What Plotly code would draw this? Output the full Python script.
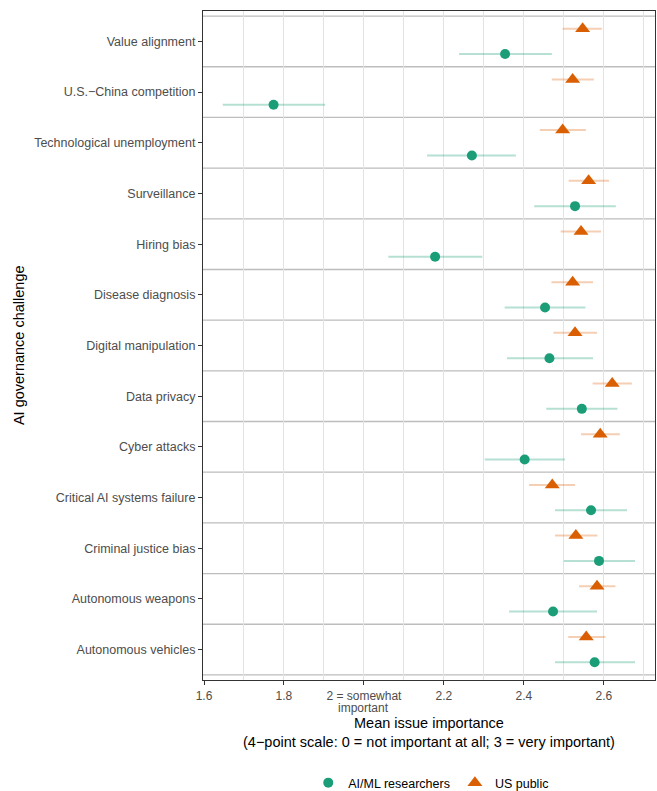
import plotly.graph_objects as go

# Categories, top to bottom
categories = [
    "Value alignment", "U.S.\u2212China competition", "Technological unemployment",
    "Surveillance", "Hiring bias", "Disease diagnosis", "Digital manipulation",
    "Data privacy", "Cyber attacks", "Critical AI systems failure",
    "Criminal justice bias", "Autonomous weapons", "Autonomous vehicles",
]

# AI/ML researchers: mean, lower, upper
res_mean = [2.353, 1.774, 2.270, 2.528, 2.178, 2.453, 2.464, 2.545, 2.402, 2.568, 2.588, 2.473, 2.577]
res_low  = [2.238, 1.647, 2.158, 2.426, 2.061, 2.352, 2.358, 2.456, 2.302, 2.478, 2.500, 2.363, 2.478]
res_high = [2.470, 1.903, 2.380, 2.630, 2.296, 2.554, 2.573, 2.634, 2.503, 2.658, 2.678, 2.583, 2.678]

# US public: mean, lower, upper
pub_mean = [2.547, 2.522, 2.497, 2.562, 2.543, 2.522, 2.528, 2.621, 2.591, 2.471, 2.530, 2.583, 2.556]
pub_low  = [2.497, 2.470, 2.440, 2.512, 2.492, 2.469, 2.474, 2.572, 2.543, 2.413, 2.478, 2.538, 2.511]
pub_high = [2.595, 2.575, 2.555, 2.613, 2.593, 2.573, 2.583, 2.670, 2.640, 2.528, 2.584, 2.629, 2.604]

x_tickvals = [1.6, 1.8, 2.0, 2.2, 2.4, 2.6]
x_ticktext = ["1.6", "1.8", "2 = somewhat", "2.2", "2.4", "2.6"]
x_tick_second_line = {2.0: "important"}

n = len(categories)
pos = [n - i for i in range(n)]
dodge = 0.25

green = "#1B9E77"
orange = "#D95F02"

fig = go.Figure()
fig.add_trace(go.Scatter(
    x=res_mean, y=[p - dodge for p in pos], mode="markers", name="AI/ML researchers",
    marker=dict(symbol="circle", size=10, color=green),
    error_x=dict(type="data", symmetric=False,
                 array=[h - m for h, m in zip(res_high, res_mean)],
                 arrayminus=[m - l for m, l in zip(res_mean, res_low)],
                 color="rgba(27,158,119,0.32)", thickness=2, width=0),
))
fig.add_trace(go.Scatter(
    x=pub_mean, y=[p + dodge for p in pos], mode="markers", name="US public",
    marker=dict(symbol="triangle-up", size=13, color=orange),
    error_x=dict(type="data", symmetric=False,
                 array=[h - m for h, m in zip(pub_high, pub_mean)],
                 arrayminus=[m - l for m, l in zip(pub_mean, pub_low)],
                 color="rgba(217,95,2,0.3)", thickness=2, width=0),
))

shapes = []
for k in range(n + 1):
    shapes.append(dict(type="line", xref="paper", x0=0, x1=1, yref="y",
                       y0=k + 0.5, y1=k + 0.5, line=dict(color="#bdbdbd", width=1.3),
                       layer="below"))

annotations = [
    dict(text="Mean issue importance<br>(4\u2212point scale: 0 = not important at all; 3 = very important)",
         xref="paper", yref="paper", x=0.5, y=-0.0515, xanchor="center", yanchor="top",
         showarrow=False, borderpad=0, font=dict(size=14.5, color="#000000")),
    dict(text="AI governance challenge", xref="paper", yref="paper",
         x=-0.408, y=0.5, xanchor="center", yanchor="middle", textangle=-90,
         showarrow=False, font=dict(size=14.5, color="#000000")),
]
for xv, txt in x_tick_second_line.items():
    annotations.append(dict(text=txt, xref="x", yref="paper", x=xv, y=-0.0415,
                            xanchor="center", yanchor="middle", showarrow=False,
                            borderpad=0, font=dict(size=12, color="#4D4D4D")))

fig.update_layout(
    width=657, height=791,
    margin=dict(l=203, r=2, t=11, b=111),
    plot_bgcolor="white", paper_bgcolor="white",
    font=dict(family="Liberation Sans, Arial, sans-serif", color="#000000"),
    shapes=shapes,
    annotations=annotations,
    showlegend=True,
    legend=dict(orientation="h", xref="paper", x=0.505, xanchor="center",
                yref="container", y=0.0101, yanchor="middle",
                font=dict(size=12.5, color="#000000"), itemwidth=30),
    xaxis=dict(
        range=[1.5975, 2.728], tickvals=x_tickvals, ticktext=x_ticktext,
        tickfont=dict(size=12, color="#4D4D4D"), automargin=False,
        showgrid=True, gridcolor="#e3e3e3", gridwidth=0.8,
        minor=dict(dtick=0.1, tick0=1.5, showgrid=True, gridcolor="#e3e3e3", gridwidth=0.6),
        ticks="outside", ticklen=4, tickcolor="#333333",
        showline=True, linecolor="#333333", linewidth=1.2, mirror=True,
        zeroline=False,
    ),
    yaxis=dict(
        range=[0.4, n + 0.6], tickvals=pos, ticktext=categories,
        tickfont=dict(size=12.5, color="#4D4D4D"), automargin=False,
        showgrid=False, zeroline=False,
        ticks="outside", ticklen=4, tickcolor="#333333",
        showline=True, linecolor="#333333", linewidth=1.2, mirror=True,
    ),
)

fig.write_html("out.html", config={"displayModeBar": False},
               post_script="document.body.style.margin='0';document.body.style.overflow='hidden';")
